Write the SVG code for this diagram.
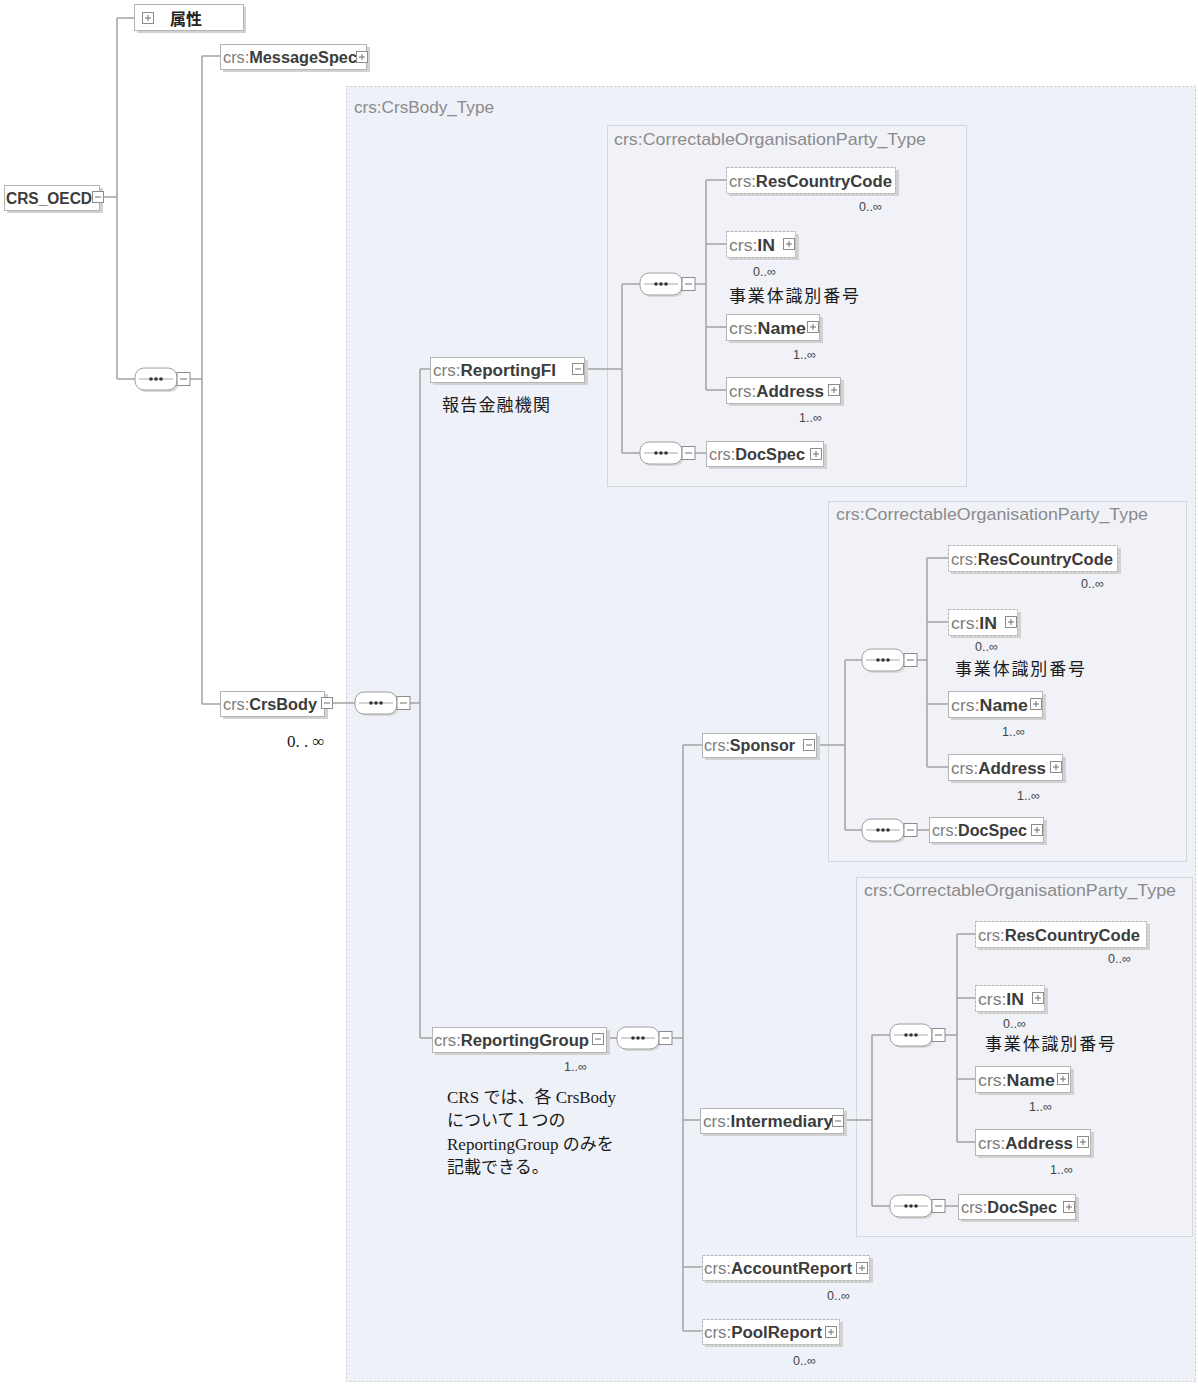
<svg xmlns="http://www.w3.org/2000/svg" xmlns:xlink="http://www.w3.org/1999/xlink" width="1198" height="1384" viewBox="0 0 1198 1384">
  <style>
    .ln { stroke: #a3a3a3; stroke-width: 1.5; fill: none; }
    .nb { fill: #ffffff; stroke: #b4b4b4; stroke-width: 1; }
    .sh { fill: #d2d2d2; }
    .lbl { font-family: "Liberation Sans", Arial, sans-serif; font-size: 16px; }
    .pre { fill: #7d7d7d; }
    .nm { fill: #3c3c3c; font-weight: bold; }
    .mult { font-family: "Liberation Sans", Arial, sans-serif; font-size: 12.5px; fill: #444444; }
    .ic { fill: #ffffff; stroke: #8c8c8c; stroke-width: 1; }
    .icl { stroke: #6e6e6e; stroke-width: 1; fill: none; }
    .type { fill: #eef1f8; stroke: #c6c8cc; stroke-width: 1; stroke-dasharray: 2 2; }
    .itype { fill: #f0f2f8; stroke: #d3d6dc; stroke-width: 1; }
    .tname { font-family: "Liberation Sans", Arial, sans-serif; font-size: 17px; fill: #8b8b8b; }
    .note { font-family: "Liberation Serif", "Noto Sans CJK JP", serif; font-size: 17px; fill: #1a1a1a; }
  </style>
  <defs>
    <g id="plus">
      <rect class="ic" x="-5.5" y="-5.5" width="11" height="11"/>
      <path class="icl" d="M-3 0H3M0 -3V3"/>
    </g>
    <g id="minus">
      <rect class="ic" x="-5.5" y="-5.5" width="11" height="11"/>
      <path class="icl" d="M-3 0H3"/>
    </g>
    <!-- sequence compositor: capsule 0..42 plus collapse box 42..55, centred on y=0 -->
    <g id="seq">
      <rect x="2" y="-9" width="42" height="22" rx="9" fill="#d8d8d8"/>
      <rect x="0" y="-11" width="42" height="22" rx="9" fill="#ffffff" stroke="#a0a0a0" stroke-width="1"/>
      <path d="M4 0H38" stroke="#a8a8a8" stroke-width="1"/>
      <circle cx="16" cy="0" r="1.8" fill="#333"/>
      <circle cx="21" cy="0" r="1.8" fill="#333"/>
      <circle cx="26" cy="0" r="1.8" fill="#333"/>
      <rect class="ic" x="42" y="-6.5" width="13" height="13"/>
      <path class="icl" d="M45 0H52"/>
    </g>
  </defs>

  <rect width="1198" height="1384" fill="#ffffff"/>

  <!-- complex type frames -->
  <g id="type-crsbody">
    <rect class="type" x="346.5" y="86.5" width="849" height="1295"/>
    <text class="tname" x="354" y="113" textLength="140" lengthAdjust="spacingAndGlyphs">crs:CrsBody_Type</text>
  </g>
  <g id="type-org-fi">
    <rect class="itype" x="607.5" y="125.5" width="359" height="361"/>
    <text class="tname" x="614" y="145" textLength="312" lengthAdjust="spacingAndGlyphs">crs:CorrectableOrganisationParty_Type</text>
  </g>
  <g id="type-org-sponsor">
    <rect class="itype" x="828.5" y="501.5" width="358" height="360"/>
    <text class="tname" x="836" y="520" textLength="312" lengthAdjust="spacingAndGlyphs">crs:CorrectableOrganisationParty_Type</text>
  </g>
  <g id="type-org-intermediary">
    <rect class="itype" x="856.5" y="877.5" width="336" height="359"/>
    <text class="tname" x="864" y="896" textLength="312" lengthAdjust="spacingAndGlyphs">crs:CorrectableOrganisationParty_Type</text>
  </g>

  <!-- connectors -->
  <g id="connectors">
    <path class="ln" d="M104 197H117M117 18V379M117 18H134M117 379H135"/>
    <path class="ln" d="M190 379H202M202 56V704M202 56H220M202 704H220"/>
    <path class="ln" d="M333 703H355M410 703H420M420 369V1038M420 369H430M420 1038H432"/>
    <!-- ReportingFI branch -->
    <path class="ln" d="M584 369H622M622 284V453M622 284H640M622 453H640"/>
    <path class="ln" d="M695 284H706M706 180V390M706 180H726M706 244H726M706 327H726M706 390H726M695 453H706"/>
    <!-- ReportingGroup branch -->
    <path class="ln" d="M607 1038H617M672 1038H683M683 745V1331M683 745H702M683 1120H700M683 1267H702M683 1331H702"/>
    <!-- Sponsor branch -->
    <path class="ln" d="M816 745H845M845 660V830M845 660H862M845 830H862"/>
    <path class="ln" d="M917 660H927M927 558V767M927 558H948M927 622H948M927 704H948M927 767H948M917 830H929"/>
    <!-- Intermediary branch -->
    <path class="ln" d="M844 1120H872M872 1035V1206M872 1035H890M872 1206H890"/>
    <path class="ln" d="M945 1035H957M957 934V1142M957 934H975M957 998H975M957 1079H975M957 1142H975M945 1206H958"/>
  </g>

  <!-- compositors -->
  <g id="seq-root"><use xlink:href="#seq" x="135" y="379"/></g>
  <g id="seq-crsbody"><use xlink:href="#seq" x="355" y="703"/></g>
  <g id="seq-fi-1"><use xlink:href="#seq" x="640" y="284"/></g>
  <g id="seq-fi-2"><use xlink:href="#seq" x="640" y="453"/></g>
  <g id="seq-group"><use xlink:href="#seq" x="617" y="1038"/></g>
  <g id="seq-sp-1"><use xlink:href="#seq" x="862" y="660"/></g>
  <g id="seq-sp-2"><use xlink:href="#seq" x="862" y="830"/></g>
  <g id="seq-im-1"><use xlink:href="#seq" x="890" y="1035"/></g>
  <g id="seq-im-2"><use xlink:href="#seq" x="890" y="1206"/></g>

  <!-- root level -->
  <g id="n-attributes">
    <rect class="sh" x="137" y="7" width="109" height="26"/>
    <rect class="nb" x="134.5" y="4.5" width="109" height="26"/>
    <use xlink:href="#plus" x="148" y="18"/>
    <text x="170" y="25" font-family="'Noto Sans CJK JP', sans-serif" font-size="16" font-weight="bold" fill="#222">属性</text>
  </g>
  <g id="n-crs-oecd">
    <rect class="sh" x="7" y="188" width="96" height="25"/>
    <rect class="nb" x="4.5" y="185.5" width="95" height="25"/>
    <text class="lbl" x="6" y="204" textLength="86" lengthAdjust="spacingAndGlyphs"><tspan class="nm">CRS_OECD</tspan></text>
    <use xlink:href="#minus" x="98" y="197"/>
  </g>
  <g id="n-messagespec">
    <rect class="sh" x="223" y="47" width="147" height="25"/>
    <rect class="nb" x="220.5" y="44.5" width="146" height="25"/>
    <text class="lbl" x="223" y="63" textLength="134" lengthAdjust="spacingAndGlyphs"><tspan class="pre">crs:</tspan><tspan class="nm">MessageSpec</tspan></text>
    <use xlink:href="#plus" x="362" y="57"/>
  </g>
  <g id="n-crsbody">
    <rect class="sh" x="223" y="694" width="105" height="25"/>
    <rect class="nb" x="220.5" y="691.5" width="104" height="25"/>
    <text class="lbl" x="223" y="710" textLength="94" lengthAdjust="spacingAndGlyphs"><tspan class="pre">crs:</tspan><tspan class="nm">CrsBody</tspan></text>
    <use xlink:href="#minus" x="327" y="703"/>
    <text class="note" x="287" y="747">0. . ∞</text>
  </g>

  <!-- ReportingFI -->
  <g id="n-reportingfi">
    <rect class="sh" x="433" y="360" width="155" height="25"/>
    <rect class="nb" x="430.5" y="357.5" width="154" height="25"/>
    <text class="lbl" x="433" y="376" textLength="123" lengthAdjust="spacingAndGlyphs"><tspan class="pre">crs:</tspan><tspan class="nm">ReportingFI</tspan></text>
    <use xlink:href="#minus" x="578" y="369"/>
    <text class="note" x="442" y="411" textLength="108">報告金融機関</text>
  </g>
  <g id="n-fi-rescountrycode">
    <rect class="sh" x="729" y="170" width="170" height="26"/>
    <rect class="nb" x="726.5" y="167.5" width="169" height="26" stroke-dasharray="3 1"/>
    <text class="lbl" x="729" y="187" textLength="163" lengthAdjust="spacingAndGlyphs"><tspan class="pre">crs:</tspan><tspan class="nm">ResCountryCode</tspan></text>
    <text class="mult" x="859" y="211">0..∞</text>
  </g>
  <g id="n-fi-in">
    <rect class="sh" x="729" y="234" width="70" height="26"/>
    <rect class="nb" x="726.5" y="231.5" width="69" height="26" stroke-dasharray="3 1"/>
    <text class="lbl" x="729" y="251" textLength="46" lengthAdjust="spacingAndGlyphs"><tspan class="pre">crs:</tspan><tspan class="nm">IN</tspan></text>
    <use xlink:href="#plus" x="789" y="244"/>
    <text class="mult" x="753" y="276">0..∞</text>
    <text class="note" x="729" y="302" textLength="130">事業体識別番号</text>
  </g>
  <g id="n-fi-name">
    <rect class="sh" x="729" y="317" width="94" height="26"/>
    <rect class="nb" x="726.5" y="314.5" width="93" height="26"/>
    <text class="lbl" x="729" y="334" textLength="77" lengthAdjust="spacingAndGlyphs"><tspan class="pre">crs:</tspan><tspan class="nm">Name</tspan></text>
    <use xlink:href="#plus" x="813" y="327"/>
    <text class="mult" x="793" y="359">1..∞</text>
  </g>
  <g id="n-fi-address">
    <rect class="sh" x="729" y="380" width="115" height="26"/>
    <rect class="nb" x="726.5" y="377.5" width="114" height="26"/>
    <text class="lbl" x="729" y="397" textLength="95" lengthAdjust="spacingAndGlyphs"><tspan class="pre">crs:</tspan><tspan class="nm">Address</tspan></text>
    <use xlink:href="#plus" x="834" y="390"/>
    <text class="mult" x="799" y="422">1..∞</text>
  </g>
  <g id="n-fi-docspec">
    <rect class="sh" x="709" y="444" width="118" height="25"/>
    <rect class="nb" x="706.5" y="441.5" width="117" height="25"/>
    <text class="lbl" x="709" y="460" textLength="96" lengthAdjust="spacingAndGlyphs"><tspan class="pre">crs:</tspan><tspan class="nm">DocSpec</tspan></text>
    <use xlink:href="#plus" x="816" y="454"/>
  </g>

  <!-- ReportingGroup -->
  <g id="n-reportinggroup">
    <rect class="sh" x="435" y="1030" width="175" height="25"/>
    <rect class="nb" x="432.5" y="1027.5" width="174" height="25"/>
    <text class="lbl" x="434" y="1046" textLength="155" lengthAdjust="spacingAndGlyphs"><tspan class="pre">crs:</tspan><tspan class="nm">ReportingGroup</tspan></text>
    <use xlink:href="#minus" x="598" y="1039"/>
    <text class="mult" x="564" y="1071">1..∞</text>
    <text class="note" x="447" y="1103">CRS では、各 CrsBody</text>
    <text class="note" x="447" y="1126">について１つの</text>
    <text class="note" x="447" y="1150">ReportingGroup のみを</text>
    <text class="note" x="447" y="1173">記載できる。</text>
  </g>

  <!-- Sponsor -->
  <g id="n-sponsor">
    <rect class="sh" x="705" y="736" width="115" height="24"/>
    <rect class="nb" x="702.5" y="733.5" width="114" height="24"/>
    <text class="lbl" x="704" y="751" textLength="91" lengthAdjust="spacingAndGlyphs"><tspan class="pre">crs:</tspan><tspan class="nm">Sponsor</tspan></text>
    <use xlink:href="#minus" x="809" y="745"/>
  </g>
  <g id="n-sp-rescountrycode">
    <rect class="sh" x="951" y="548" width="170" height="26"/>
    <rect class="nb" x="948.5" y="545.5" width="169" height="26" stroke-dasharray="3 1"/>
    <text class="lbl" x="951" y="565" textLength="162" lengthAdjust="spacingAndGlyphs"><tspan class="pre">crs:</tspan><tspan class="nm">ResCountryCode</tspan></text>
    <text class="mult" x="1081" y="588">0..∞</text>
  </g>
  <g id="n-sp-in">
    <rect class="sh" x="951" y="612" width="70" height="26"/>
    <rect class="nb" x="948.5" y="609.5" width="69" height="26" stroke-dasharray="3 1"/>
    <text class="lbl" x="951" y="629" textLength="46" lengthAdjust="spacingAndGlyphs"><tspan class="pre">crs:</tspan><tspan class="nm">IN</tspan></text>
    <use xlink:href="#plus" x="1011" y="622"/>
    <text class="mult" x="975" y="651">0..∞</text>
    <text class="note" x="955" y="675" textLength="130">事業体識別番号</text>
  </g>
  <g id="n-sp-name">
    <rect class="sh" x="951" y="694" width="95" height="26"/>
    <rect class="nb" x="948.5" y="691.5" width="94" height="26"/>
    <text class="lbl" x="951" y="711" textLength="77" lengthAdjust="spacingAndGlyphs"><tspan class="pre">crs:</tspan><tspan class="nm">Name</tspan></text>
    <use xlink:href="#plus" x="1036" y="704"/>
    <text class="mult" x="1002" y="736">1..∞</text>
  </g>
  <g id="n-sp-address">
    <rect class="sh" x="951" y="757" width="115" height="26"/>
    <rect class="nb" x="948.5" y="754.5" width="114" height="26"/>
    <text class="lbl" x="951" y="774" textLength="95" lengthAdjust="spacingAndGlyphs"><tspan class="pre">crs:</tspan><tspan class="nm">Address</tspan></text>
    <use xlink:href="#plus" x="1056" y="767"/>
    <text class="mult" x="1017" y="800">1..∞</text>
  </g>
  <g id="n-sp-docspec">
    <rect class="sh" x="932" y="820" width="115" height="25"/>
    <rect class="nb" x="929.5" y="817.5" width="114" height="25"/>
    <text class="lbl" x="932" y="836" textLength="95" lengthAdjust="spacingAndGlyphs"><tspan class="pre">crs:</tspan><tspan class="nm">DocSpec</tspan></text>
    <use xlink:href="#plus" x="1037" y="830"/>
  </g>

  <!-- Intermediary -->
  <g id="n-intermediary">
    <rect class="sh" x="703" y="1111" width="144" height="25"/>
    <rect class="nb" x="700.5" y="1108.5" width="143" height="25"/>
    <text class="lbl" x="703" y="1127" textLength="130" lengthAdjust="spacingAndGlyphs"><tspan class="pre">crs:</tspan><tspan class="nm">Intermediary</tspan></text>
    <use xlink:href="#minus" x="838" y="1121"/>
  </g>
  <g id="n-im-rescountrycode">
    <rect class="sh" x="978" y="924" width="172" height="26"/>
    <rect class="nb" x="975.5" y="921.5" width="171" height="26" stroke-dasharray="3 1"/>
    <text class="lbl" x="978" y="941" textLength="162" lengthAdjust="spacingAndGlyphs"><tspan class="pre">crs:</tspan><tspan class="nm">ResCountryCode</tspan></text>
    <text class="mult" x="1108" y="963">0..∞</text>
  </g>
  <g id="n-im-in">
    <rect class="sh" x="978" y="988" width="70" height="26"/>
    <rect class="nb" x="975.5" y="985.5" width="69" height="26" stroke-dasharray="3 1"/>
    <text class="lbl" x="978" y="1005" textLength="46" lengthAdjust="spacingAndGlyphs"><tspan class="pre">crs:</tspan><tspan class="nm">IN</tspan></text>
    <use xlink:href="#plus" x="1038" y="998"/>
    <text class="mult" x="1003" y="1028">0..∞</text>
    <text class="note" x="985" y="1050" textLength="130">事業体識別番号</text>
  </g>
  <g id="n-im-name">
    <rect class="sh" x="978" y="1069" width="96" height="26"/>
    <rect class="nb" x="975.5" y="1066.5" width="95" height="26"/>
    <text class="lbl" x="978" y="1086" textLength="77" lengthAdjust="spacingAndGlyphs"><tspan class="pre">crs:</tspan><tspan class="nm">Name</tspan></text>
    <use xlink:href="#plus" x="1063" y="1079"/>
    <text class="mult" x="1029" y="1111">1..∞</text>
  </g>
  <g id="n-im-address">
    <rect class="sh" x="978" y="1132" width="116" height="26"/>
    <rect class="nb" x="975.5" y="1129.5" width="115" height="26"/>
    <text class="lbl" x="978" y="1149" textLength="95" lengthAdjust="spacingAndGlyphs"><tspan class="pre">crs:</tspan><tspan class="nm">Address</tspan></text>
    <use xlink:href="#plus" x="1083" y="1142"/>
    <text class="mult" x="1050" y="1174">1..∞</text>
  </g>
  <g id="n-im-docspec">
    <rect class="sh" x="961" y="1197" width="118" height="25"/>
    <rect class="nb" x="958.5" y="1194.5" width="117" height="25"/>
    <text class="lbl" x="961" y="1213" textLength="96" lengthAdjust="spacingAndGlyphs"><tspan class="pre">crs:</tspan><tspan class="nm">DocSpec</tspan></text>
    <use xlink:href="#plus" x="1069" y="1207"/>
  </g>

  <!-- reports -->
  <g id="n-accountreport">
    <rect class="sh" x="705" y="1258" width="168" height="25"/>
    <rect class="nb" x="702.5" y="1255.5" width="167" height="25" stroke-dasharray="3 1"/>
    <text class="lbl" x="704" y="1274" textLength="148" lengthAdjust="spacingAndGlyphs"><tspan class="pre">crs:</tspan><tspan class="nm">AccountReport</tspan></text>
    <use xlink:href="#plus" x="862" y="1268"/>
    <text class="mult" x="827" y="1300">0..∞</text>
  </g>
  <g id="n-poolreport">
    <rect class="sh" x="705" y="1322" width="138" height="25"/>
    <rect class="nb" x="702.5" y="1319.5" width="137" height="25" stroke-dasharray="3 1"/>
    <text class="lbl" x="704" y="1338" textLength="118" lengthAdjust="spacingAndGlyphs"><tspan class="pre">crs:</tspan><tspan class="nm">PoolReport</tspan></text>
    <use xlink:href="#plus" x="831" y="1332"/>
    <text class="mult" x="793" y="1365">0..∞</text>
  </g>
</svg>
